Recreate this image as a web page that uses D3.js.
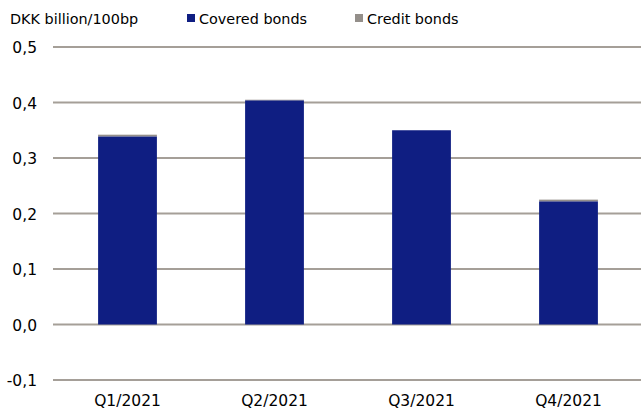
<!DOCTYPE html>
<html>
<head>
<meta charset="utf-8">
<script src="https://cdn.jsdelivr.net/npm/d3@7"></script>
<style>
  body { margin: 0; background: #fff; }
  text { font-family: "DejaVu Sans", Verdana, sans-serif; fill: #000; }
</style>
</head>
<body>
<div id="chart"></div>
<script>
// Chart data
const quarters = ["Q1/2021", "Q2/2021", "Q3/2021", "Q4/2021"];
const coveredBonds = [0.339, 0.404, 0.350, 0.222];
const creditBonds = [0.003, 0.001, 0.000, 0.003];
const yTicks = [-0.1, 0.0, 0.1, 0.2, 0.3, 0.4, 0.5];

const seriesNames = ["Covered bonds", "Credit bonds"];
const colors = ["#0f1e82", "#948f8a"];

const width = 641, height = 412;
const margin = {top: 47, right: 0, bottom: 32, left: 53};

const svg = d3.select("#chart")
    .append("svg")
    .attr("width", width)
    .attr("height", height);

const xScale = d3.scaleBand()
    .domain(quarters)
    .range([margin.left, width - margin.right])
    .paddingInner(0.6)
    .paddingOuter(0.3);

const yScale = d3.scaleLinear()
    .domain([-0.1, 0.5])
    .range([height - margin.bottom, margin.top]);

// Gridlines
svg.append("g")
    .selectAll("line")
    .data(yTicks)
    .join("line")
    .attr("x1", margin.left)
    .attr("x2", width - margin.right)
    .attr("y1", d => yScale(d))
    .attr("y2", d => yScale(d))
    .attr("stroke", "#a59f98")
    .attr("stroke-width", 2);

// Y labels
const fmt = d => d3.format(".1f")(d).replace("−", "-").replace(".", ",");
svg.append("g")
    .selectAll("text")
    .data(yTicks)
    .join("text")
    .attr("x", 37)
    .attr("y", d => yScale(d) + 1)
    .attr("dy", "0.35em")
    .attr("text-anchor", "end")
    .attr("font-size", 15.5)
    .text(fmt);

// Stacked bars
const rows = quarters.map((q, i) => ({quarter: q, covered: coveredBonds[i], credit: creditBonds[i]}));
const stacked = d3.stack().keys(["covered", "credit"])(rows);

svg.append("g")
    .selectAll("g")
    .data(stacked)
    .join("g")
    .attr("fill", (d, i) => colors[i])
    .selectAll("rect")
    .data(d => d)
    .join("rect")
    .attr("x", d => xScale(d.data.quarter) + 1)
    .attr("y", d => yScale(d[1]))
    .attr("width", xScale.bandwidth())
    .attr("height", d => yScale(d[0]) - yScale(d[1]));

// X labels
svg.append("g")
    .selectAll("text")
    .data(quarters)
    .join("text")
    .attr("x", d => xScale(d) + xScale.bandwidth() / 2 + 1)
    .attr("y", 406)
    .attr("text-anchor", "middle")
    .attr("font-size", 15.5)
    .text(d => d);

// Axis title
svg.append("text")
    .attr("x", 10)
    .attr("y", 24)
    .attr("font-size", 14.4)
    .text("DKK billion/100bp");

// Legend
const legendX = [187, 355];
const legend = svg.append("g")
    .selectAll("g")
    .data(seriesNames)
    .join("g")
    .attr("transform", (d, i) => `translate(${legendX[i]},0)`);

legend.append("rect")
    .attr("x", 0)
    .attr("y", 14)
    .attr("width", 8)
    .attr("height", 8)
    .attr("fill", (d, i) => colors[i]);

legend.append("text")
    .attr("x", 12)
    .attr("y", 24)
    .attr("font-size", 14.4)
    .text(d => d);
</script>
</body>
</html>
